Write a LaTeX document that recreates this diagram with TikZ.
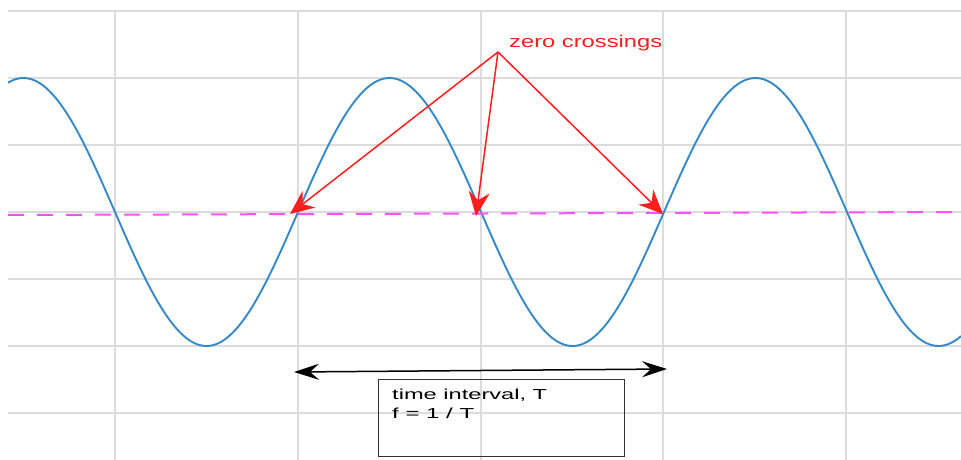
\documentclass[tikz,border=0pt]{standalone}
\usepackage{fontspec}
\setmainfont{Liberation Sans}
\usetikzlibrary{arrows.meta}
\definecolor{gridc}{RGB}{220,220,220}
\definecolor{wave}{RGB}{52,138,200}
\definecolor{zeroline}{RGB}{255,80,255}
\definecolor{redc}{RGB}{255,30,30}
\definecolor{boxc}{RGB}{50,50,50}
\tikzset{
  gridline/.style={draw=gridc, line width=1.1pt},
  wavecurve/.style={draw=wave, line width=1.9pt},
  axisline/.style={draw=zeroline, line width=2pt, dash pattern=on 16pt off 13pt},
  redarrow/.style={draw=redc, line width=1.5pt, -{Stealth[length=24pt,width=21pt,inset=8pt]}},
  spanarrow/.style={draw=black, line width=1.5pt, {Stealth[length=25pt,width=16pt,inset=9pt]}-{Stealth[length=25pt,width=16pt,inset=9pt]}},
  infobox/.style={draw=boxc, line width=1.3pt, minimum width=246pt, minimum height=77pt, anchor=north west, inner sep=0pt},
}
\begin{document}
\begin{tikzpicture}[x=1pt,y=-1pt]
\useasboundingbox (0,0) rectangle (961,460);
% grid
\foreach \yy in {11,78,145,212,279,346,413}
  \draw[gridline] (8,\yy) -- (961,\yy);
\foreach \xx in {115,298,481,663,846}
  \draw[gridline] (\xx,11) -- (\xx,460);
% wave
\draw[wavecurve] plot[domain=8:961, samples=300, smooth] (\x,{212+134*sin((\x-115)/183*180)});
% zero line
\draw[axisline] (8,215) -- (961,212);
% zero crossings
\coordinate (src) at (498,52);
\coordinate (z1) at (290,214);
\coordinate (z2) at (476,216);
\coordinate (z3) at (663,214);
\node[anchor=base west, inner sep=0pt, text=redc, font=\fontsize{17pt}{20pt}\selectfont] (zlabel) at (509,48) {\resizebox{153pt}{\height}{zero crossings}};
\draw[redarrow] (src) -- (z1);
\draw[redarrow] (src) -- (z2);
\draw[redarrow] (src) -- (z3);
% time interval
\coordinate (tl) at (294,372);
\coordinate (tr) at (667,369);
\draw[spanarrow] (tl) -- (tr);
\node[infobox] (box) at (378,379) {};
\node[anchor=north west, inner sep=0pt, align=left, font=\fontsize{14.5pt}{19pt}\selectfont] (boxtext) at ([xshift=14pt,yshift=-10pt]box.north west)
  {\resizebox{155pt}{\height}{time interval, T}\\\resizebox{82pt}{\height}{f = 1 / T}};
\end{tikzpicture}
\end{document}
